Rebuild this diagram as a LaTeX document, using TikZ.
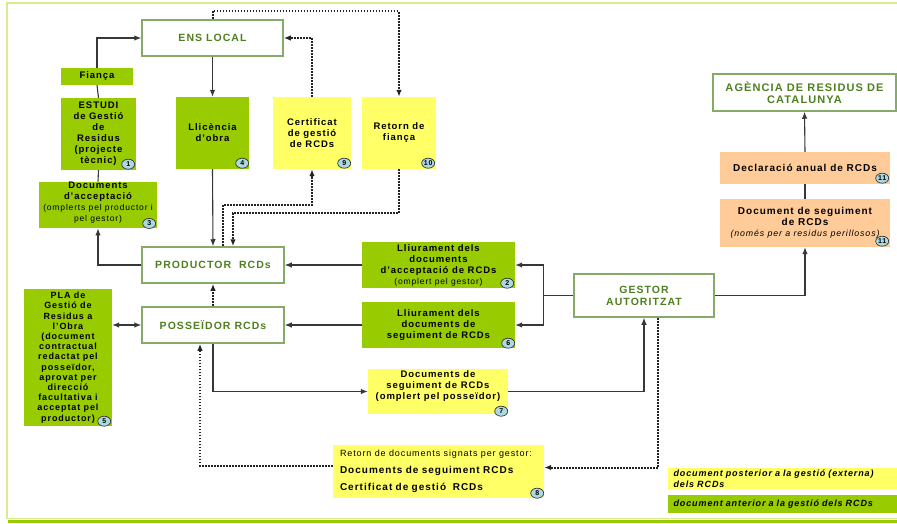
\documentclass[tikz,border=0pt]{standalone}
\usepackage{fontspec}
\setmainfont{Liberation Sans}[LetterSpace=10]
\usetikzlibrary{arrows.meta, positioning, calc, shapes.geometric}
\definecolor{boxgreen}{RGB}{153,204,0}
\definecolor{boxyellow}{RGB}{255,255,102}
\definecolor{boxorange}{RGB}{255,204,153}
\definecolor{entityline}{RGB}{135,170,105}
\definecolor{entitytext}{RGB}{78,128,32}
\definecolor{badgeblue}{RGB}{172,216,226}
\definecolor{linegray}{RGB}{55,55,55}
\definecolor{dotgray}{RGB}{35,35,35}
\definecolor{framelight}{RGB}{214,236,142}
\tikzset{
  box/.style={inner sep=0pt, align=center, font=\bfseries\fontsize{9.5}{11}\selectfont},
  greenbox/.style={box, fill=boxgreen},
  yellowbox/.style={box, fill=boxyellow},
  orangebox/.style={box, fill=boxorange},
  entity/.style={draw=entityline, line width=1.5pt, fill=white, inner sep=0pt, align=center,
    text=entitytext, font=\bfseries\fontsize{10.5}{12}\selectfont},
  badge/.style={ellipse, draw=linegray, line width=0.7pt, fill=badgeblue, inner sep=0pt,
    minimum width=13pt, minimum height=10pt, font=\bfseries\fontsize{7}{7}\selectfont},
  tip/.style={-{Latex[length=7pt,width=5.5pt]}},
  flow/.style={draw=linegray, line width=1.1pt, tip},
  plain/.style={draw=linegray, line width=1.1pt},
  dotflow/.style={flow, draw=dotgray, line width=2pt, dash pattern=on 1.8pt off 1.2pt},
  legend/.style={inner sep=0pt, align=left, font=\bfseries\itshape\fontsize{9}{11}\selectfont},
}
\newcommand{\smalltxt}{\mdseries\fontsize{8.5}{11}\selectfont}
\begin{document}
\begin{tikzpicture}[x=1pt, y=-1pt]
\useasboundingbox (0,0) rectangle (897,524);
% frame
\draw[framelight, line width=1.5pt] (7,519) -- (7,3) -- (900,3);
\draw[framelight, line width=1pt] (7,518.5) -- (900,518.5);
\draw[boxgreen, line width=3pt] (8,521.5) -- (900,521.5);
% entities
\node[entity, minimum width=141, minimum height=36] (ens) at (212.5,38) {ENS LOCAL};
\node[entity, minimum width=142, minimum height=36] (prod) at (213,265) {PRODUCTOR\ \ RCDs};
\node[entity, minimum width=142, minimum height=36] (poss) at (213,325) {POSSEÏDOR RCDs};
\node[entity, minimum width=140, minimum height=43] (gestor) at (644,295.5) {GESTOR\\AUTORITZAT};
\node[entity, minimum width=183, minimum height=37, font=\bfseries\fontsize{11}{12}\selectfont] (agencia) at (804.5,92.5) {AGÈNCIA DE RESIDUS DE\\CATALUNYA};
% documents
\node[greenbox, minimum width=72, minimum height=17] (fianca) at (97,76.5) {Fiança};
\node[greenbox, minimum width=75, minimum height=72] (estudi) at (98.5,134) {ESTUDI\\de Gestió\\de\\Residus\\(projecte\\tècnic)};
\node[greenbox, minimum width=73, minimum height=72] (llic) at (212.5,133) {Llicència\\d’obra};
\node[yellowbox, minimum width=78, minimum height=72] (cert) at (312,133) {Certificat\\de gestió\\de RCDs};
\node[yellowbox, minimum width=74, minimum height=72] (retornf) at (399,133) {Retorn de\\fiança};
\node[greenbox, minimum width=118, minimum height=46] (docacc) at (98,205) {Documents\\d’acceptació\\{\smalltxt(omplerts pel productor i}\\{\smalltxt pel gestor)}\\[-4pt]};
\node[greenbox, minimum width=88, minimum height=137, font=\bfseries\fontsize{9}{10.2}\selectfont] (pla) at (68,357.5) {PLA de\\Gestió de\\Residus a\\l’Obra\\(document\\contractual\\redactat pel\\posseïdor,\\aprovat per\\direcció\\facultativa i\\acceptat pel\\productor)};
\node[greenbox, minimum width=153, minimum height=46] (lliu2) at (438.5,265) {Lliurament dels\\documents\\d’acceptació de RCDs\\{\smalltxt(omplert pel gestor)}};
\node[greenbox, minimum width=153, minimum height=46] (lliu6) at (438.5,325) {Lliurament dels\\documents de\\seguiment de RCDs};
\node[yellowbox, minimum width=140, minimum height=45] (docseg7) at (438,391.5) {Documents de\\seguiment de RCDs\\(omplert pel posseïdor)\\[1pt]};
\node[yellowbox, minimum width=211, minimum height=53, align=left, text width=197, inner xsep=7pt, font=\bfseries\fontsize{10}{17}\selectfont] (ret8) at (438.5,471.5) {{\mdseries\fontsize{9}{17}\selectfont Retorn de documents signats per gestor:}\\Documents de seguiment RCDs\\Certificat de gestió\ \ RCDs};
\node[orangebox, minimum width=170, minimum height=32, font=\bfseries\fontsize{10}{11}\selectfont] (decl) at (805,168) {Declaració anual de RCDs};
\node[orangebox, minimum width=170, minimum height=48, font=\bfseries\fontsize{10}{11}\selectfont] (docseg11) at (805,223) {Document de seguiment\\de RCDs\\{\mdseries\itshape\fontsize{8.8}{11}\selectfont(només per a residus perillosos)}};
% badges
\node[badge] (b1) at ([shift={(-8,-6)}]estudi.south east) {1};
\node[badge] (b2) at ([shift={(-8,-5)}]lliu2.south east) {2};
\node[badge] (b3) at ([shift={(-8,-5)}]docacc.south east) {3};
\node[badge] (b4) at ([shift={(-7,-6)}]llic.south east) {4};
\node[badge] (b5) at ([shift={(-8,-5)}]pla.south east) {5};
\node[badge] (b6) at ([shift={(-7,-5)}]lliu6.south east) {6};
\node[badge] (b7) at ([shift={(-7,-3)}]docseg7.south east) {7};
\node[badge] (b8) at ([shift={(-7,-5)}]ret8.south east) {8};
\node[badge] (b9) at ([shift={(-7,-6)}]cert.south east) {9};
\node[badge] (b10) at ([shift={(-8,-6)}]retornf.south east) {10};
\node[badge] (b11a) at ([shift={(-8,-6)}]decl.south east) {11};
\node[badge] (b11b) at ([shift={(-8,-6)}]docseg11.south east) {11};
% legend
\node[yellowbox, legend, minimum width=229, minimum height=21, text width=218, inner xsep=5.5pt] (legpost) at (782.5,478.5) {document posterior a la gestió (externa)\\dels RCDs};
\node[greenbox, legend, minimum width=229, minimum height=18, text width=218, inner xsep=5.5pt] (legant) at (782.5,504) {document anterior a la gestió dels RCDs};
% connectors
\draw[plain] (docacc.north) -- (estudi.south);
\draw[plain] (estudi.north) -- (fianca.south);
\draw[flow] (fianca.north) |- (ens.west);
\draw[flow] (ens.south) -- (llic.north);
\draw[flow] (llic.south) -- (prod.north);
\draw[dotflow] (ens.north) -- ++(0,-8) -| (retornf.north);
\draw[dotflow] (cert.north) |- (ens.east);
\draw[dotflow] ([xshift=10pt]prod.north) -- ++(0,-41) -| (cert.south);
\draw[dotflow] (retornf.south) -- ++(0,44) -| ([xshift=20pt]prod.north);
\draw[flow] (prod.west) -| (docacc.south);
\draw[dotflow] (poss.north) -- (prod.south);
\draw[flow, {Latex[length=7pt,width=5.5pt]}-{Latex[length=7pt,width=5.5pt]}] (pla.east |- poss.west) -- (poss.west);
\draw[flow] (lliu2.west) -- (prod.east);
\draw[flow] (lliu6.west) -- (poss.east);
\draw[flow] (gestor.west) -- ++(-30,0) coordinate (split) |- (lliu2.east);
\draw[flow] (split) |- (lliu6.east);
\draw[flow] (gestor.east) -| (docseg11.south);
\draw[plain] (docseg11.north) -- (decl.south);
\draw[flow] (decl.north) -- (agencia.south);
\draw[flow] (poss.south) |- (docseg7.west);
\draw[flow] (docseg7.east) -| (gestor.south);
\draw[dotflow] ([xshift=14pt]gestor.south) |- ([yshift=4pt]ret8.east);
\draw[dotflow] ([yshift=6pt]ret8.west) -| ([xshift=-13pt]poss.south);
\end{tikzpicture}
\end{document}
